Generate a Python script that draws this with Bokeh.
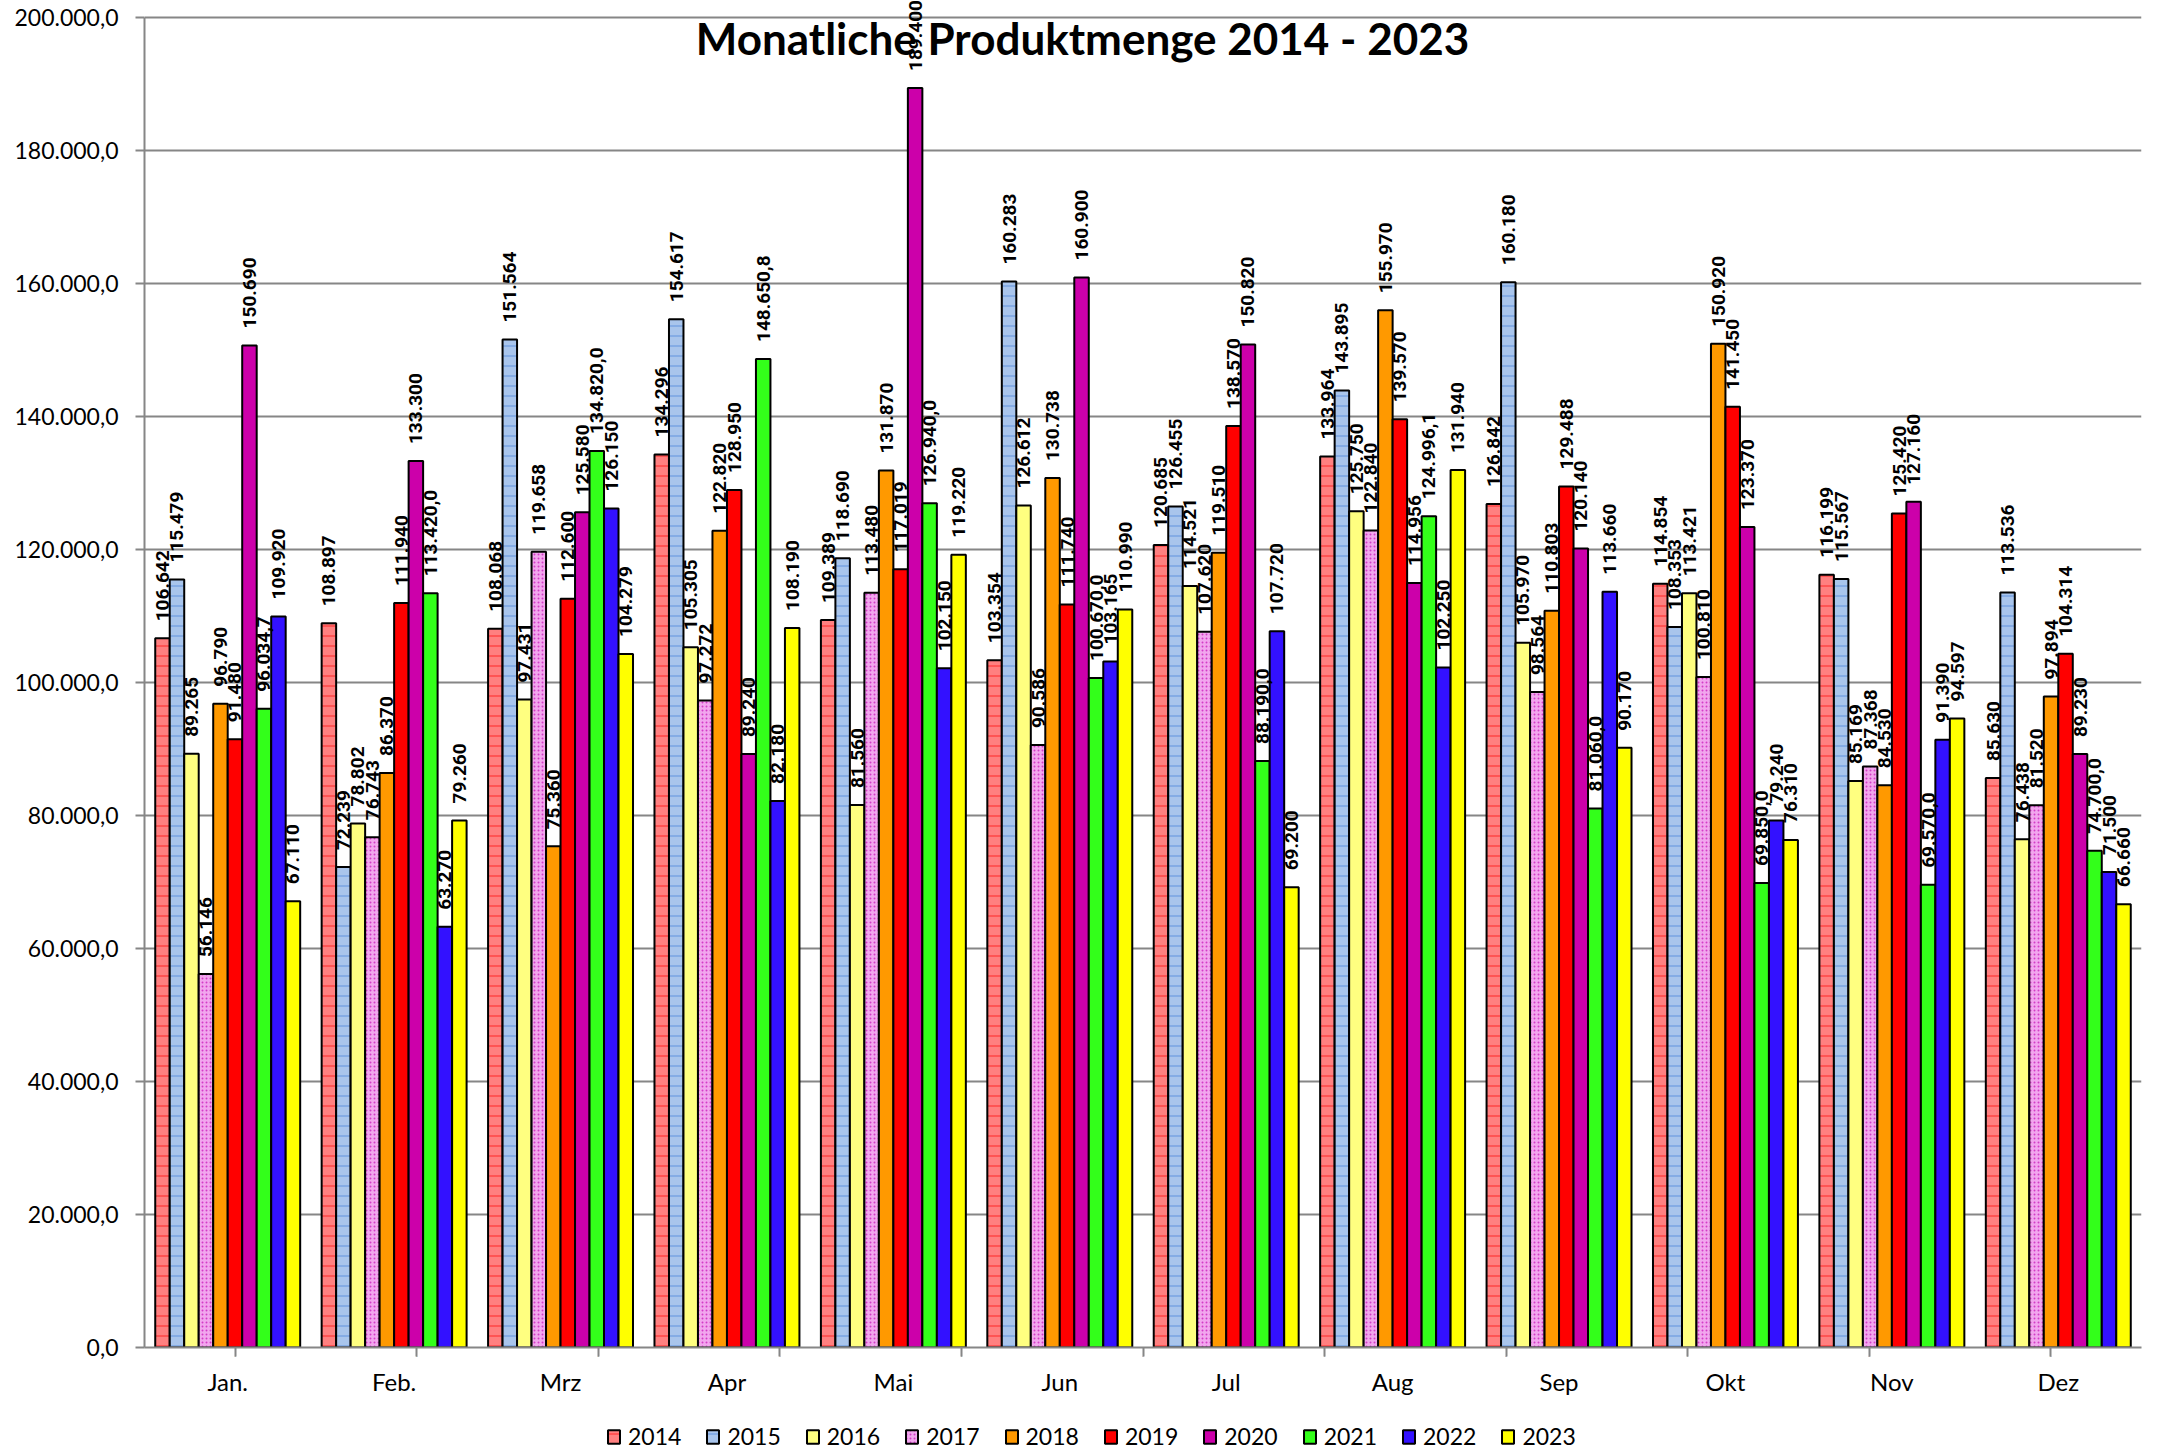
import numpy as np
from bokeh.plotting import figure
from bokeh.layouts import column
from bokeh.models import (ColumnDataSource, FactorRange, Range1d, CategoricalAxis,
                          FixedTicker, Label, Legend, LegendItem)
from bokeh.transform import dodge
from bokeh.core.properties import value
from bokeh.embed import file_html
from bokeh.resources import INLINE

# ---------------- data ----------------
months = ["Jan.", "Feb.", "Mrz", "Apr", "Mai", "Jun", "Jul", "Aug", "Sep", "Okt", "Nov", "Dez"]
years = ["2014", "2015", "2016", "2017", "2018", "2019", "2020", "2021", "2022", "2023"]

v2014 = [106642, 108897, 108068, 134296, 109389, 103354, 120685, 133964, 126842, 114854, 116199, 85630]
v2015 = [115479, 72239, 151564, 154617, 118690, 160283, 126455, 143895, 160180, 108353, 115567, 113536]
v2016 = [89265, 78802, 97431, 105305, 81560, 126612, 114521, 125750, 105970, 113421, 85169, 76438]
v2017 = [56146, 76743, 119658, 97272, 113480, 90586, 107620, 122840, 98564, 100810, 87368, 81520]
v2018 = [96790, 86370, 75360, 122820, 131870, 130738, 119510, 155970, 110803, 150920, 84530, 97894]
v2019 = [91480, 111940, 112600, 128950, 117019, 111740, 138570, 139570, 129488, 141450, 125420, 104314]
v2020 = [150690, 133300, 125580, 89240, 189400, 160900, 150820, 114956, 120140, 123370, 127160, 89230]
v2021 = [96034.7, 113420.0, 134820.0, 148650.8, 126940.0, 100670.0, 88190.0, 124996.1, 81060.0, 69850.0, 69570.0, 74700.0]
v2022 = [109920, 63270, 126150, 82180, 102150, 103165, 107720, 102250, 113660, 79240, 91390, 71500]
v2023 = [67110, 79260, 104279, 108190, 119220, 110990, 69200, 131940, 90170, 76310, 94597, 66660]
series = [v2014, v2015, v2016, v2017, v2018, v2019, v2020, v2021, v2022, v2023]
label_decimals = [0, 0, 0, 0, 0, 0, 0, 1, 0, 0]

y_ticks = [0, 20000, 40000, 60000, 80000, 100000, 120000, 140000, 160000, 180000, 200000]
y_tick_labels = ["0,0", "20.000,0", "40.000,0", "60.000,0", "80.000,0", "100.000,0",
                 "120.000,0", "140.000,0", "160.000,0", "180.000,0", "200.000,0"]
title_text = "Monatliche Produktmenge 2014 - 2023"


def de_fmt(v, dec):
    s = f"{v:,.{dec}f}"
    return s.replace(",", "X").replace(".", ",").replace("X", ".")


# ---------------- styles ----------------
styles = [
    dict(fill_color="#FF8080", hatch_pattern="horizontal_line", hatch_color="#FF1010", hatch_scale=10, hatch_weight=1, hatch_alpha=0.8),
    dict(fill_color="#A9C5EC", hatch_pattern="horizontal_line", hatch_color="#4F86DA", hatch_scale=10, hatch_weight=1, hatch_alpha=0.8),
    dict(fill_color="#FFFF80"),
    dict(fill_color="#F2A6EE", hatch_pattern="dot", hatch_color="#CC22BB", hatch_scale=4, hatch_weight=1, hatch_alpha=0.8),
    dict(fill_color="#FF9900"),
    dict(fill_color="#FF0000"),
    dict(fill_color="#CC00AA"),
    dict(fill_color="#33FF1A"),
    dict(fill_color="#3311FF"),
    dict(fill_color="#FFFF00"),
]

src_data = dict(month=months)
for y, vals, dec in zip(years, series, label_decimals):
    src_data[y] = vals
    src_data["lbl" + y] = [de_fmt(v, dec) for v in vals]
source = ColumnDataSource(src_data)

W = 2159
H_MAIN = 1400
H_LEG = 50
GRAY = "#868686"
FONT = "Lato"

p = figure(width=W, height=H_MAIN,
           x_range=FactorRange(*months, range_padding=0, factor_padding=0),
           y_range=Range1d(0, 202550),
           output_backend="svg", toolbar_location=None,
           x_axis_location=None, y_axis_location="left",
           min_border_left=144, min_border_right=18, min_border_top=0, min_border_bottom=53)
p.outline_line_color = None
p.background_fill_color = "white"
p.border_fill_color = "white"

# y axis
tick_fixed = FixedTicker(ticks=y_ticks)
p.yaxis.ticker = tick_fixed
p.yaxis.bounds = (y_ticks[0], y_ticks[-1])
p.yaxis.major_label_overrides = {t: l for t, l in zip(y_ticks, y_tick_labels)}
p.yaxis.axis_line_color = GRAY
p.yaxis.axis_line_width = 2
p.yaxis.major_tick_line_color = GRAY
p.yaxis.major_tick_line_width = 2
p.yaxis.major_tick_out = 9
p.yaxis.major_tick_in = 0
p.yaxis.minor_tick_line_color = None
p.yaxis.major_label_text_font = FONT
p.yaxis.major_label_text_font_size = "23px"
p.yaxis.major_label_text_color = "black"
p.yaxis.major_label_standoff = 17

p.ygrid.ticker = tick_fixed
p.ygrid.grid_line_color = GRAY
p.ygrid.grid_line_width = 2
p.xgrid.visible = False

# x axes: separator ticks (factor range shifted by half a category) + month labels
sep_factors = ["s%d" % i for i in range(len(months) + 1)]
p.extra_x_ranges = {"sep": FactorRange(*sep_factors, range_padding=-1.0, range_padding_units="absolute")}
sep_axis = CategoricalAxis(x_range_name="sep",
                           axis_line_color=GRAY, axis_line_width=2,
                           major_tick_line_color=GRAY, major_tick_line_width=2,
                           major_tick_out=9, major_tick_in=0,
                           minor_tick_line_color=None,
                           major_label_overrides={f: "" for f in sep_factors},
                           major_label_text_font_size="1px", major_label_standoff=0)
p.add_layout(sep_axis, "below")
month_axis = CategoricalAxis(axis_line_color=None, major_tick_line_color=None,
                             minor_tick_line_color=None,
                             major_label_text_font=FONT, major_label_text_font_size="24px",
                             major_label_text_color="black", major_label_standoff=0)
p.add_layout(month_axis, "below")

# bars
n = len(years)
bar_w = 0.0871
for j, y in enumerate(years):
    off = (j - (n - 1) / 2) * bar_w
    p.vbar(x=dodge("month", off, range=p.x_range), top=y, width=bar_w, source=source,
           line_color="black", line_width=2, **styles[j])
for j, y in enumerate(years):
    off = (j - (n - 1) / 2) * bar_w
    p.text(x=dodge("month", off, range=p.x_range), y=y, text="lbl" + y, source=source,
           angle=np.pi / 2, text_align="left", text_baseline="middle", y_offset=-17,
           text_font=value("Roboto"), text_font_style="bold",
           text_font_size="19px", text_color="black")

# title inside plot area
p.add_layout(Label(x=938, y=1310, x_units="screen", y_units="screen", text=title_text,
                   text_align="center", text_baseline="alphabetic",
                   text_font=FONT, text_font_style="bold", text_font_size="44px",
                   text_color="black"))

# ---------------- legend strip ----------------
q = figure(width=W, height=H_LEG, x_range=Range1d(0, 1), y_range=Range1d(0, 1),
           output_backend="svg", toolbar_location=None,
           x_axis_location=None, y_axis_location=None,
           min_border=0, min_border_left=0, min_border_right=0, min_border_top=0, min_border_bottom=0)
q.outline_line_color = None
q.xgrid.visible = False
q.ygrid.visible = False
leg_items = []
for j, y in enumerate(years):
    r = q.vbar(x=0.5, top=y, width=0.1, source=source, visible=False,
               line_color="black", line_width=2, **styles[j])
    leg_items.append(LegendItem(label=y, renderers=[r]))
legend = Legend(items=leg_items, location=(462, 0), orientation="horizontal",
                glyph_width=15, glyph_height=17, label_standoff=7, spacing=24,
                padding=0, margin=0, border_line_color=None, background_fill_alpha=0,
                inactive_fill_alpha=0,
                label_text_font=FONT, label_text_font_size="23px", label_text_color="black")
q.add_layout(legend, "center")

layout = column(p, q, spacing=0)
open("out.html", "w").write(file_html(layout, INLINE))
